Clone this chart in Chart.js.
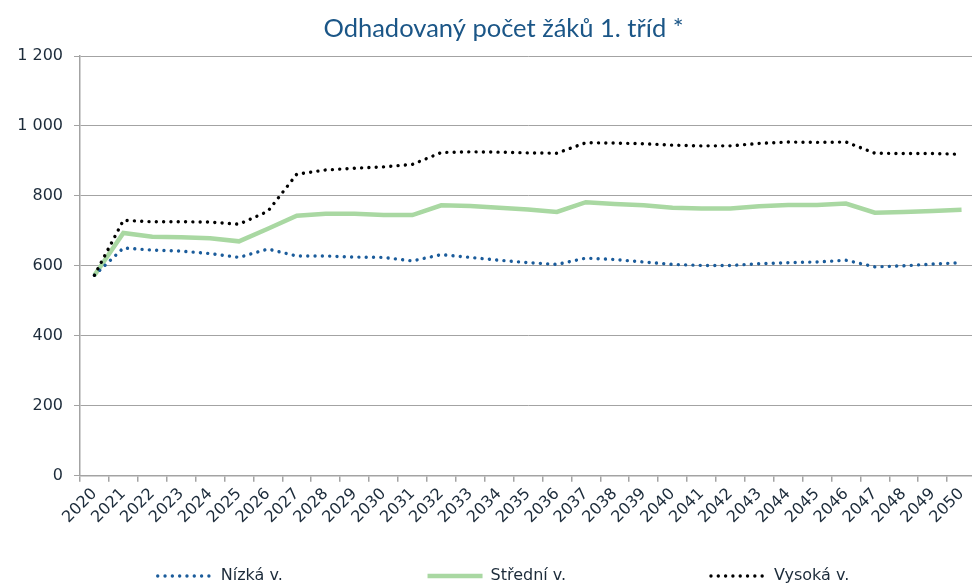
<!DOCTYPE html>
<html>
<head>
<meta charset="utf-8">
<script src="https://cdn.jsdelivr.net/npm/chart.js@4"></script>
<style>
  html, body { margin: 0; padding: 0; overflow: hidden; background: #ffffff; }
  #wrap { width: 1007px; height: 594px; }
</style>
</head>
<body>
<div id="wrap"><canvas id="c" width="1007" height="594"></canvas></div>
<script>
const chartTitle = 'Odhadovaný počet žáků 1. tříd *';
const years = ['2020','2021','2022','2023','2024','2025','2026','2027','2028','2029','2030',
  '2031','2032','2033','2034','2035','2036','2037','2038','2039','2040',
  '2041','2042','2043','2044','2045','2046','2047','2048','2049','2050'];
const seriesNames = ['Nízká v.', 'Střední v.', 'Vysoká v.'];
const nizka = [573,651,645,642,635,624,648,628,628,625,624,614,632,624,616,609,604,622,618,611,604,
  601,601,606,609,611,616,597,600,605,609];
const stredni = [573,694,683,682,679,670,706,743,749,749,745,745,773,771,766,761,754,782,777,773,766,
  764,764,770,774,774,778,752,754,757,760];
const vysoka = [573,730,726,726,725,719,756,862,874,879,883,890,924,926,925,923,922,952,951,949,945,
  943,943,950,954,953,954,922,921,921,919];
const yTicks = [0, 200, 400, 600, 800, 1000, 1200];

const legendGap = ' '.repeat(21);
const textColor = '#1c2b3a';
const axisGray = '#a3a3a3';

function fmt(v) {
  return v >= 1000 ? Math.floor(v / 1000) + ' ' + String(v % 1000).padStart(3, '0') : String(v);
}

const dotDash = [0.01, 7.3];

const widenYLabelArea = {
  id: 'widenYLabelArea',
  afterLayout(chart) {
    const s = chart.scales.y;
    s.width = s.right;
    s.left = 0;
  }
};

new Chart(document.getElementById('c'), {
  type: 'line',
  data: {
    labels: years,
    datasets: [
      { label: seriesNames[0], data: nizka, borderColor: '#1b5c9b', backgroundColor: '#1b5c9b',
        borderWidth: 3.4, borderDash: dotDash, borderCapStyle: 'round', pointRadius: 0, tension: 0, order: 1 },
      { label: seriesNames[1], data: stredni, borderColor: '#a9d8a2', backgroundColor: '#a9d8a2',
        borderWidth: 4.5, borderCapStyle: 'butt', pointRadius: 0, tension: 0, order: 2 },
      { label: seriesNames[2], data: vysoka, borderColor: '#000000', backgroundColor: '#000000',
        borderWidth: 3.4, borderDash: dotDash, borderCapStyle: 'round', pointRadius: 0, tension: 0, order: 0 }
    ]
  },
  plugins: [widenYLabelArea],
  options: {
    responsive: false,
    animation: false,
    devicePixelRatio: 1,
    layout: { padding: { left: 31, right: 31, top: 0, bottom: 0 } },
    plugins: {
      title: {
        display: true,
        text: chartTitle,
        color: '#1b5687',
        font: { family: 'Lato', size: 25.5, weight: 'normal', lineHeight: 1.2 },
        padding: { top: 13, bottom: 12.4 }
      },
      legend: {
        display: true,
        position: 'bottom',
        labels: {
          usePointStyle: true,
          pointStyle: 'line',
          pointStyleWidth: 55,
          boxHeight: 16,
          padding: 38,
          color: textColor,
          font: { family: 'DejaVu Sans', size: 16 },
          generateLabels(chart) {
            const ds = chart.data.datasets;
            return ds.map((d, i) => ({
              text: d.label + (i < ds.length - 1 ? legendGap : ''),
              fillStyle: d.borderColor,
              strokeStyle: d.borderColor,
              fontColor: textColor,
              lineWidth: d.borderWidth,
              lineDash: d.borderDash || [],
              lineCap: d.borderCapStyle || 'butt',
              pointStyle: 'line',
              hidden: false,
              datasetIndex: i
            }));
          }
        }
      },
      tooltip: { enabled: false }
    },
    scales: {
      x: {
        type: 'category',
        offset: true,
        afterFit(scale) { scale.paddingLeft = 0; scale.paddingRight = 0; },
        border: { display: true, color: axisGray, width: 1.5 },
        grid: { display: true, drawOnChartArea: false, drawTicks: true, tickLength: 6, offset: true, color: axisGray, lineWidth: 1.5 },
        ticks: {
          autoSkip: false, maxRotation: 45, minRotation: 45, padding: 3,
          color: textColor, font: { family: 'DejaVu Sans', size: 16 }
        }
      },
      y: {
        min: 0, max: 1200,
        afterBuildTicks(scale) { scale.ticks = yTicks.map(v => ({ value: v })); },
        afterFit(scale) { scale.width = 49; scale.paddingTop = 0; scale.paddingBottom = 0; },
        border: { display: true, color: axisGray, width: 1.5 },
        grid: { display: true, drawOnChartArea: true, drawTicks: true, tickLength: 6, color: axisGray, lineWidth: 1 },
        ticks: {
          padding: 11, color: textColor, font: { family: 'DejaVu Sans', size: 16 },
          callback: (v) => fmt(v)
        }
      }
    }
  }
});
</script>
</body>
</html>
